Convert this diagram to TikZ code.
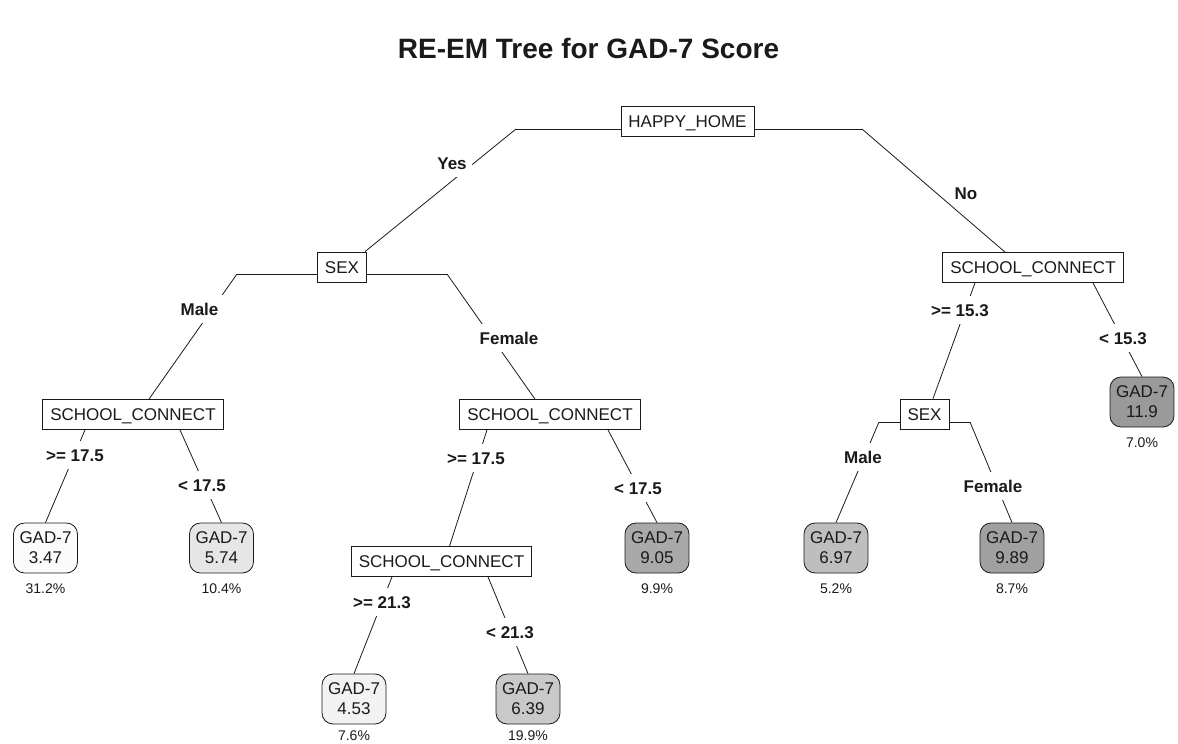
\documentclass[tikz,border=0pt]{standalone}
\usepackage{fontspec}
\setmainfont{Liberation Sans}
\pgfdeclarelayer{bg}
\pgfsetlayers{bg,main}
\definecolor{ink}{HTML}{1A1A1A}
\definecolor{fa}{HTML}{FBFBFB}
\definecolor{fb}{HTML}{F2F2F2}
\definecolor{fc}{HTML}{E6E6E6}
\definecolor{fd}{HTML}{C9C9C9}
\definecolor{fe}{HTML}{BEBEBE}
\definecolor{ff}{HTML}{A9A9A9}
\definecolor{fg}{HTML}{A0A0A0}
\definecolor{fh}{HTML}{9A9A9A}
\newcommand\nodefont{\fontsize{17}{20}\selectfont}
\tikzset{
  splitbox/.style={draw=ink, line width=0.8pt, fill=white, font=\nodefont, text=ink,
    inner xsep=7.5pt, inner ysep=9pt, text height=12pt, text depth=0pt},
  leafbox/.style={draw=ink, line width=0.8pt, rounded corners=11pt, font=\nodefont, text=ink,
    align=center, inner xsep=6pt, inner ysep=4pt, minimum height=50pt},
  cond/.style={font=\nodefont\bfseries, text=ink, fill=white,
    inner xsep=5pt, inner ysep=8pt, text height=12pt, text depth=0pt},
  condplain/.style={cond, fill=none},
  pct/.style={font=\fontsize{14}{16}\selectfont, text=ink},
  branch/.style={draw=ink, line width=0.8pt},
}
\begin{document}
\begin{tikzpicture}[x=1pt, y=-1pt]
\useasboundingbox (0,0) rectangle (1178,744);

% title
\node[font=\fontsize{28}{32}\selectfont\bfseries, text=ink] (title) at (588.5,48) {RE-EM Tree for GAD-7 Score};

% split nodes
\node[splitbox] (root) at (687.5,121.5) {HAPPY\_HOME};
\node[splitbox] (sexL) at (342,267) {SEX};
\node[splitbox] (scR)  at (1033,267.5) {SCHOOL\_CONNECT};
\node[splitbox] (scL1) at (133,414.5) {SCHOOL\_CONNECT};
\node[splitbox] (scL2) at (550,414.5) {SCHOOL\_CONNECT};
\node[splitbox] (sexR) at (924.5,414) {SEX};
\node[splitbox] (scL3) at (441.5,561.5) {SCHOOL\_CONNECT};

% leaves
\node[leafbox, fill=fa] (l347) at (45.5,548) {GAD-7\\3.47};
\node[leafbox, fill=fc] (l574) at (221.5,548) {GAD-7\\5.74};
\node[leafbox, fill=ff] (l905) at (657,548) {GAD-7\\9.05};
\node[leafbox, fill=fe] (l697) at (836,548) {GAD-7\\6.97};
\node[leafbox, fill=fg] (l989) at (1012,548) {GAD-7\\9.89};
\node[leafbox, fill=fh] (l119) at (1142,402) {GAD-7\\11.9};
\node[leafbox, fill=fb] (l453) at (354,699) {GAD-7\\4.53};
\node[leafbox, fill=fd] (l639) at (528,699) {GAD-7\\6.39};

% leaf shares
\node[pct] (p347) at (45.5,589) {31.2\%};
\node[pct] (p574) at (221.5,589) {10.4\%};
\node[pct] (p905) at (657,589) {9.9\%};
\node[pct] (p697) at (836,589) {5.2\%};
\node[pct] (p989) at (1012,589) {8.7\%};
\node[pct] (p119) at (1142,443) {7.0\%};
\node[pct] (p453) at (354,736) {7.6\%};
\node[pct] (p639) at (528,736) {19.9\%};

% bar ends of the wide splits
\coordinate (rootL) at (516,129);
\coordinate (rootR) at (862,129);
\coordinate (sexLl) at (237,274);
\coordinate (sexLr) at (447,274);
\coordinate (sexRl) at (879,422);
\coordinate (sexRr) at (970,422);

% branches, behind the boxes and labels
\begin{pgfonlayer}{bg}
\draw[branch] (rootL) -- (rootR);
\draw[branch] (rootL) -- ([xshift=23pt]sexL.north);
\draw[branch] (rootR) -- ([xshift=-28pt]scR.north);
\draw[branch] (sexLl) -- (sexLr);
\draw[branch] (sexLl) -- ([xshift=16pt]scL1.north);
\draw[branch] (sexLr) -- ([xshift=-15pt]scL2.north);
\draw[branch] ([xshift=-48pt]scL1.south) -- (l347.north);
\draw[branch] ([xshift=47pt]scL1.south) -- (l574.north);
\draw[branch] ([xshift=-63pt]scL2.south) -- ([xshift=8pt]scL3.north);
\draw[branch] ([xshift=58pt]scL2.south) -- (l905.north);
\draw[branch] ([xshift=-49.5pt]scL3.south) -- (l453.north);
\draw[branch] ([xshift=46.5pt]scL3.south) -- (l639.north);
\draw[branch] ([xshift=-58pt]scR.south) -- ([xshift=8.5pt]sexR.north);
\draw[branch] ([xshift=60pt]scR.south) -- (l119.north);
\draw[branch] (sexRl) -- (sexRr);
\draw[branch] (sexRl) -- (l697.north);
\draw[branch] (sexRr) -- (l989.north);
\end{pgfonlayer}

% split conditions
\node[cond] (cYes) at (452,163) {Yes};
\node[condplain] (cNo) at (966,193) {No};
\node[cond] (cMaleL) at (199.5,309) {Male};
\node[cond] (cFemaleL) at (509,338) {Female};
\node[cond] (cA1) at (75,455) {>= 17.5};
\node[cond] (cA2) at (202,485) {< 17.5};
\node[cond] (cB1) at (476,458) {>= 17.5};
\node[cond] (cB2) at (638,488) {< 17.5};
\node[cond] (cC1) at (382,602) {>= 21.3};
\node[cond] (cC2) at (510,632) {< 21.3};
\node[cond] (cD1) at (960,310) {>= 15.3};
\node[cond] (cD2) at (1123,338) {< 15.3};
\node[cond] (cMaleR) at (863,457) {Male};
\node[cond] (cFemaleR) at (993,486) {Female};
\end{tikzpicture}
\end{document}
